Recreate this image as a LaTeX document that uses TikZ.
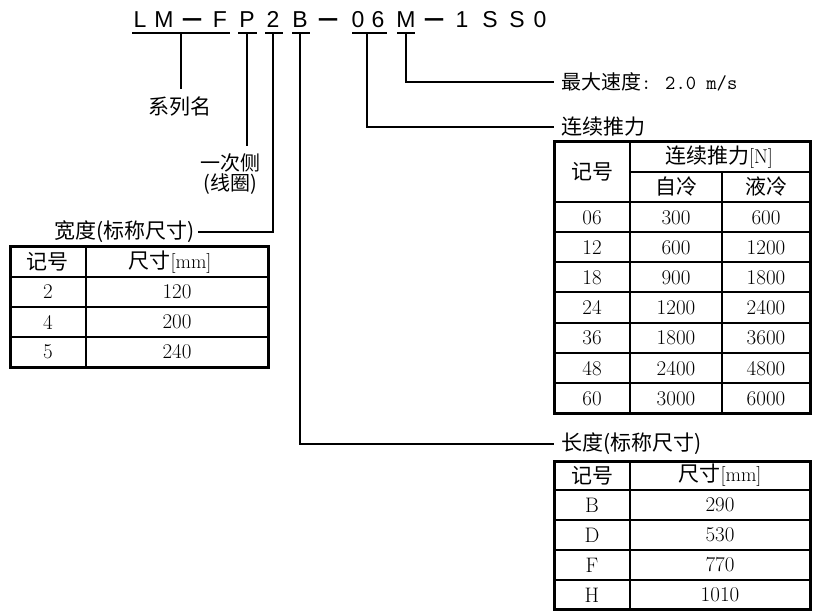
\documentclass[tikz,border=0pt]{standalone}
\usepackage{graphicx}
\usepackage{fontspec}
\newfontfamily\cjk{Noto Sans CJK SC}
\newfontfamily\codefont{Liberation Sans}
\begin{document}
\begin{tikzpicture}[x=1pt,y=-1pt]
\tikzset{
  codech/.style={font=\codefont\fontsize{23}{26}\selectfont, anchor=base, inner sep=0pt},
  lbl/.style={font=\cjk\fontsize{21}{24}\selectfont, inner sep=0pt},
  num/.style={font=\fontsize{21}{24}\selectfont, inner sep=0pt},
  conn/.style={line width=1.1pt},
  outerb/.style={line width=3pt},
  hrule/.style={line width=2pt},
  vrule/.style={line width=1.2pt},
}
\useasboundingbox (0,0) rectangle (814,612);
\fill[white] (0,0) rectangle (814,612);

% ---- model code ----
\newcommand{\mdash}{\scalebox{1.6}[1]{\bfseries −}}
\node[codech] (c1)  at (140,28) {L};
\node[codech] (c2)  at (164,28) {M};
\node[codech] (c3)  at (192,28) {\mdash};
\node[codech] (c4)  at (220,28) {F};
\node[codech] (c5)  at (247,28) {P};
\node[codech] (c6)  at (273,28) {2};
\node[codech] (c7)  at (300,28) {B};
\node[codech] (c8)  at (328,28) {\mdash};
\node[codech] (c9)  at (358,28) {0};
\node[codech] (c10) at (378,28) {6};
\node[codech] (c11) at (406,28) {M};
\node[codech] (c12) at (434,28) {\mdash};
\node[codech] (c13) at (462,28) {1};
\node[codech] (c14) at (490,28) {S};
\node[codech] (c15) at (517,28) {S};
\node[codech] (c16) at (540,28) {0};

% underlines
\draw[conn] (132,33) -- (230,33);
\draw[conn] (238,33) -- (257,33);
\draw[conn] (265,33) -- (283,33);
\draw[conn] (292,33) -- (310,33);
\draw[conn] (352,33) -- (387,33);
\draw[conn] (397,33) -- (415,33);

% labels
\node[lbl] (series) at (180,107) {系列名};
\node[inner sep=0pt, font=\cjk\fontsize{20}{18.5}\selectfont, align=center] (prim) at (230,174) {一次侧\\(线圈)};
\node[lbl, anchor=east] (wlab) at (195,232) {宽度(标称尺寸)};
\node[lbl, font=\cjk\fontsize{20}{24}\selectfont, anchor=west] (vlab) at (561,82) {最大速度{\ttfamily\fontsize{20}{24}\selectfont: 2.0 m/s}};
\node[lbl, anchor=west] (flab) at (561,127) {连续推力};
\node[lbl, anchor=west] (llab) at (561,444) {长度(标称尺寸)};

% connector coordinates
\coordinate (sTop) at (181,33);
\coordinate (sEnd) at (181,89);
\coordinate (pTop) at (247,33);
\coordinate (pEnd) at (247,146);
\coordinate (wTop) at (273,33);
\coordinate (wCor) at (273,232);
\coordinate (wEnd) at (198,232);
\coordinate (bTop) at (300,33);
\coordinate (bCor) at (300,444);
\coordinate (bEnd) at (554,444);
\coordinate (fTop) at (367,33);
\coordinate (fCor) at (367,127);
\coordinate (fEnd) at (554,127);
\coordinate (mTop) at (406,33);
\coordinate (mCor) at (406,82);
\coordinate (mEnd) at (554,82);

\draw[conn] (sTop) -- (sEnd);
\draw[conn] (pTop) -- (pEnd);
\draw[conn] (wTop) -- (wCor) -- (wEnd);
\draw[conn] (bTop) -- (bCor) -- (bEnd);
\draw[conn] (fTop) -- (fCor) -- (fEnd);
\draw[conn] (mTop) -- (mCor) -- (mEnd);

% ---- width table ----
\foreach \yy in {277,307,337} \draw[hrule] (10,\yy) -- (268,\yy);
\draw[vrule] (86,247) -- (86,367);
\draw[outerb] (10,247) rectangle (268,367);
\node[lbl] (wh1) at (48,262) {记号};
\node[lbl] (wh2) at (170,262) {尺寸{\fontsize{20}{22}\selectfont\rmfamily[mm]}};
\foreach \k/\a/\b in {0/2/120,1/4/200,2/5/240}{
  \node[num] (wa\k) at (48,{292+30*\k}) {\a};
  \node[num] (wb\k) at (177,{292+30*\k}) {\b};
}

% ---- thrust table ----
\draw[vrule] (630,142) -- (630,413);
\draw[vrule] (722,172) -- (722,413);
\draw[vrule] (630,172) -- (810,172);
\draw[hrule] (554,202) -- (810,202);
\foreach \yy in {232.2,262.3,292.5,322.6,352.8,382.9} \draw[hrule] (554,\yy) -- (810,\yy);
\draw[outerb] (554,142) rectangle (810,413);
\node[lbl] (fh1) at (592,172) {记号};
\node[lbl] (fh2) at (719,157) {连续推力{\fontsize{20}{22}\selectfont\rmfamily[N]}};
\node[lbl] (fh3) at (676,187) {自冷};
\node[lbl] (fh4) at (766,187) {液冷};
\foreach \k/\a/\b/\c in {0/06/300/600,1/12/600/1200,2/18/900/1800,3/24/1200/2400,4/36/1800/3600,5/48/2400/4800,6/60/3000/6000}{
  \node[num] (fa\k) at (592,{217.5+30.15*\k}) {\a};
  \node[num] (fb\k) at (676,{217.5+30.15*\k}) {\b};
  \node[num] (fc\k) at (766,{217.5+30.15*\k}) {\c};
}

% ---- length table ----
\foreach \yy in {490,520,550,580} \draw[hrule] (554,\yy) -- (810,\yy);
\draw[vrule] (630,461) -- (630,609);
\draw[outerb] (554,461) rectangle (810,609);
\node[lbl] (lh1) at (592,475.5) {记号};
\node[lbl] (lh2) at (720,475.5) {尺寸{\fontsize{20}{22}\selectfont\rmfamily[mm]}};
\foreach \k/\a/\b in {0/B/290,1/D/530,2/F/770,3/H/1010}{
  \node[num] (la\k) at (592,{505+30*\k}) {\a};
  \node[num] (lb\k) at (720,{505+30*\k}) {\b};
}
\end{tikzpicture}
\end{document}
